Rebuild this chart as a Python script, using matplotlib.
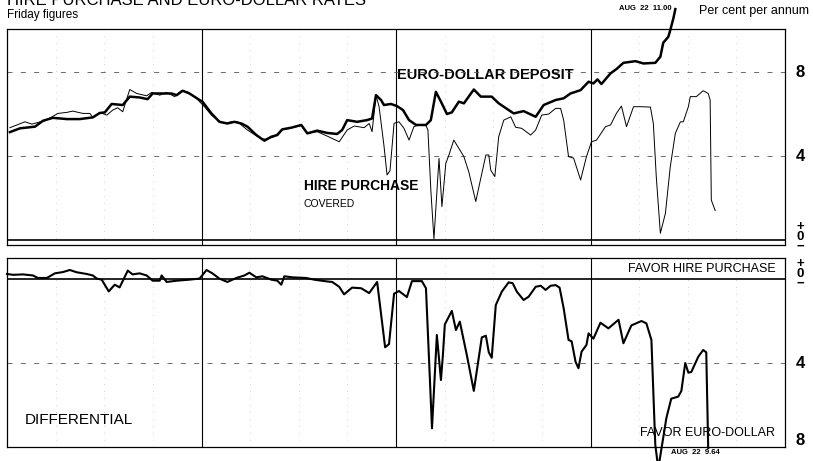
import matplotlib.pyplot as plt
import numpy as np

plt.rcParams['font.family'] = ['Liberation Sans', 'DejaVu Sans']

# Friday figures, per cent per annum (time in decimal years)
ed_year = [1961.015, 1961.067, 1961.144, 1961.185, 1961.236, 1961.308, 1961.374, 1961.441,
           1961.477, 1961.503, 1961.538, 1961.595, 1961.631, 1961.682, 1961.723, 1961.749,
           1961.800, 1961.846, 1961.872, 1961.903, 1961.938, 1961.990, 1962.005, 1962.051,
           1962.092, 1962.133, 1962.169, 1962.205, 1962.236, 1962.282, 1962.323, 1962.359,
           1962.390, 1962.415, 1962.462, 1962.513, 1962.544, 1962.595, 1962.646, 1962.697,
           1962.723, 1962.749, 1962.800, 1962.851, 1962.877, 1962.897, 1962.923, 1962.938,
           1962.974, 1963.005, 1963.036, 1963.067, 1963.103, 1963.154, 1963.179, 1963.205,
           1963.231, 1963.262, 1963.287, 1963.323, 1963.349, 1963.400, 1963.436, 1963.492,
           1963.528, 1963.605, 1963.656, 1963.718, 1963.759, 1963.821, 1963.862, 1963.897,
           1963.949, 1963.990, 1964.015, 1964.036, 1964.056, 1964.103, 1964.133, 1964.169,
           1964.231, 1964.272, 1964.333, 1964.359, 1964.374, 1964.400, 1964.410, 1964.426,
           1964.436]
ed_rate = [5.14, 5.32, 5.40, 5.68, 5.82, 5.76, 5.76, 5.84,
           6.05, 6.08, 6.48, 6.43, 6.83, 6.79, 6.71, 6.98,
           6.98, 6.98, 6.90, 7.11, 6.98, 6.67, 6.59, 6.03,
           5.63, 5.55, 5.63, 5.55, 5.40, 5.00, 4.73, 4.92,
           5.00, 5.27, 5.35, 5.48, 5.08, 5.21, 5.10, 5.05,
           5.24, 5.71, 5.63, 5.71, 5.79, 6.90, 6.67, 6.43,
           6.48, 6.38, 6.19, 5.71, 5.48, 5.48, 5.71, 7.06,
           6.59, 6.00, 6.08, 6.59, 6.51, 7.17, 6.83, 6.83,
           6.51, 6.03, 6.14, 5.87, 6.43, 6.67, 6.75, 6.98,
           7.14, 7.54, 7.46, 7.65, 7.43, 7.94, 8.14, 8.44,
           8.52, 8.41, 8.44, 8.73, 9.40, 9.68, 10.00, 10.56,
           11.00]

hp_year = [1961.015, 1961.092, 1961.128, 1961.159, 1961.195, 1961.262, 1961.308, 1961.338,
           1961.390, 1961.426, 1961.441, 1961.477, 1961.513, 1961.544, 1961.569, 1961.595,
           1961.631, 1961.667, 1961.718, 1961.744, 1961.785, 1961.821, 1961.862, 1961.897,
           1961.928, 1961.974, 1962.015, 1962.051, 1962.082, 1962.118, 1962.154, 1962.185,
           1962.236, 1962.308, 1962.338, 1962.374, 1962.410, 1962.462, 1962.513, 1962.544,
           1962.595, 1962.646, 1962.708, 1962.749, 1962.785, 1962.836, 1962.862, 1962.877,
           1962.897, 1962.913, 1962.938, 1962.954, 1962.969, 1962.990, 1963.015, 1963.041,
           1963.067, 1963.092, 1963.118, 1963.154, 1963.164, 1963.179, 1963.195, 1963.221,
           1963.236, 1963.256, 1963.272, 1963.297, 1963.323, 1963.349, 1963.374, 1963.410,
           1963.436, 1963.462, 1963.477, 1963.487, 1963.508, 1963.528, 1963.554, 1963.590,
           1963.615, 1963.646, 1963.692, 1963.718, 1963.749, 1963.785, 1963.821, 1963.846,
           1963.862, 1963.887, 1963.913, 1963.949, 1963.979, 1964.005, 1964.031, 1964.077,
           1964.103, 1964.133, 1964.159, 1964.185, 1964.221, 1964.262, 1964.308, 1964.323,
           1964.338, 1964.359, 1964.385, 1964.410, 1964.436, 1964.462, 1964.477, 1964.503,
           1964.513, 1964.544, 1964.579, 1964.605, 1964.615, 1964.621, 1964.641]
hp_rate = [5.35, 5.63, 5.52, 5.60, 5.68, 6.03, 6.08, 6.14,
           6.03, 6.03, 5.84, 6.08, 5.95, 6.19, 6.30, 6.11,
           7.17, 6.98, 6.87, 7.03, 6.90, 7.03, 6.83, 7.11,
           7.06, 6.75, 6.35, 5.95, 5.71, 5.55, 5.63, 5.63,
           5.24, 4.81, 4.81, 4.92, 5.24, 5.35, 5.45, 5.08,
           5.16, 4.95, 4.68, 5.24, 5.43, 5.35, 5.55, 5.16,
           6.90, 6.35, 4.50, 3.10, 3.30, 5.56, 5.63, 5.32,
           4.76, 5.40, 5.48, 5.45, 5.24, 2.38, 0.05, 3.89,
           1.59, 3.65, 4.05, 4.76, 4.37, 3.97, 3.25, 1.83,
           2.95, 4.05, 4.05, 3.33, 3.02, 4.92, 5.71, 5.87,
           5.37, 5.32, 5.00, 5.24, 5.95, 6.00, 6.27, 6.27,
           5.71, 3.97, 3.90, 2.86, 3.97, 4.68, 4.76, 5.40,
           5.48, 6.03, 6.38, 5.40, 6.35, 6.35, 6.33, 5.55,
           3.02, 0.32, 1.27, 3.49, 5.08, 5.63, 5.63, 6.35,
           6.83, 6.83, 7.11, 6.98, 6.67, 1.90, 1.40]

diff_year = [1961.000, 1961.031, 1961.082, 1961.133, 1961.159, 1961.205, 1961.246, 1961.287,
             1961.323, 1961.359, 1961.410, 1961.441, 1961.462, 1961.487, 1961.523, 1961.554,
             1961.579, 1961.621, 1961.646, 1961.682, 1961.718, 1961.749, 1961.785, 1961.795,
             1961.821, 1961.872, 1961.938, 1961.990, 1962.026, 1962.056, 1962.092, 1962.133,
             1962.179, 1962.221, 1962.246, 1962.282, 1962.313, 1962.359, 1962.390, 1962.410,
             1962.426, 1962.467, 1962.538, 1962.579, 1962.641, 1962.672, 1962.708, 1962.733,
             1962.774, 1962.821, 1962.862, 1962.903, 1962.944, 1962.964, 1962.990, 1963.015,
             1963.056, 1963.082, 1963.133, 1963.154, 1963.185, 1963.210, 1963.231, 1963.241,
             1963.251, 1963.287, 1963.308, 1963.328, 1963.364, 1963.400, 1963.441, 1963.462,
             1963.477, 1963.492, 1963.513, 1963.544, 1963.579, 1963.600, 1963.621, 1963.656,
             1963.682, 1963.718, 1963.744, 1963.769, 1963.795, 1963.821, 1963.841, 1963.862,
             1963.887, 1963.903, 1963.923, 1963.938, 1963.954, 1963.979, 1963.990, 1964.015,
             1964.051, 1964.092, 1964.144, 1964.169, 1964.210, 1964.262, 1964.287, 1964.313,
             1964.333, 1964.344, 1964.354, 1964.390, 1964.415, 1964.451, 1964.467, 1964.487,
             1964.503, 1964.518, 1964.554, 1964.579, 1964.595, 1964.605]
diff_rate = [0.24, 0.20, 0.22, 0.17, 0.05, 0.05, 0.27, 0.33,
             0.43, 0.32, 0.24, 0.17, 0.02, -0.03, -0.59, -0.27,
             -0.40, 0.40, 0.22, 0.27, 0.17, -0.08, -0.08, 0.17,
             -0.14, -0.08, -0.03, 0.02, 0.43, 0.27, 0.02, -0.14,
             0.05, 0.17, 0.30, 0.08, 0.13, -0.03, -0.08, -0.27,
             0.13, 0.08, 0.05, -0.03, -0.11, -0.14, -0.37, -0.73,
             -0.41, -0.44, -0.67, -0.14, -3.25, -3.10, -0.70, -0.57,
             -0.86, -0.10, -0.10, -0.44, -7.11, -2.67, -4.81, -3.62,
             -2.16, -1.52, -2.43, -2.03, -3.62, -5.33, -2.78, -2.70,
             -3.49, -3.75, -1.24, -0.60, -0.16, -0.20, -0.60, -1.00,
             -0.84, -0.37, -0.32, -0.52, -0.32, -0.29, -0.41, -1.40,
             -2.90, -2.97, -3.94, -4.25, -3.46, -3.14, -2.59, -2.84,
             -2.08, -2.35, -1.94, -3.06, -2.21, -2.00, -2.11, -2.90,
             -7.90, -8.70, -8.70, -6.62, -5.70, -5.60, -5.33, -4.00,
             -4.46, -4.43, -3.70, -3.38, -3.49, -8.05]

years = [1962, 1963, 1964]
quarters = [y + q for y in [1961, 1962, 1963, 1964] for q in [0.25, 0.5, 0.75]]

fig = plt.figure(figsize=(8.13, 4.61), dpi=100)
ax1 = fig.add_axes([0.0086, 0.4685, 0.957, 0.4685])
ax2 = fig.add_axes([0.0086, 0.0304, 0.957, 0.4099])

for ax in (ax1, ax2):
    ax.set_xlim(1961, 1965)
    ax.set_xticks([])
    ax.set_yticks([])
    for s in ax.spines.values():
        s.set_linewidth(0.9)
    for y in years:
        ax.axvline(y, color='black', lw=0.8)
    for q in quarters:
        ax.axvline(q, color='#aaaaaa', lw=0.5, ls=(0, (1, 9)))

white = dict(facecolor='white', edgecolor='none', pad=1.0)

# upper panel
ax1.set_ylim(-0.24, 10.05)
for v in [8, 4]:
    ax1.axhline(v, color='#555555', lw=0.6, ls=(0, (6, 10)))
ax1.axhline(0, color='black', lw=1.2)
ax1.plot(hp_year, hp_rate, color='black', lw=0.7)
ax1.plot(ed_year, ed_rate, color='black', lw=1.8, clip_on=False)

ax1.text(1963.005, 7.86, 'EURO-DOLLAR DEPOSIT', fontsize=10.5, fontweight='bold',
         va='center', ha='left', bbox=white, zorder=1.5)
ax1.text(1962.525, 2.57, 'HIRE PURCHASE', fontsize=10, fontweight='bold',
         va='center', ha='left', bbox=white, zorder=1.5)
ax1.text(1962.525, 1.72, 'COVERED', fontsize=7.5, va='center', ha='left')

yt = ax1.get_yaxis_transform()
ax1.text(1.02, 8, '8', transform=yt, fontsize=12, fontweight='bold', ha='center', va='center')
ax1.text(1.02, 4, '4', transform=yt, fontsize=12, fontweight='bold', ha='center', va='center')
ax1.text(1.02, 0.15, '+\n0\n\u2212', transform=yt, fontsize=9.5, fontweight='bold',
         ha='center', va='center', linespacing=0.72)

# lower panel
ax2.set_ylim(-8, 1.0)
ax2.axhline(-4, color='#555555', lw=0.6, ls=(0, (6, 10)))
ax2.axhline(0, color='black', lw=1.2)
ax2.plot(diff_year, diff_rate, color='black', lw=1.5, clip_on=False)

ax2.text(1961.09, -6.7, 'DIFFERENTIAL', fontsize=11, va='center', ha='left')
ax2.text(1964.95, 0.5, 'FAVOR HIRE PURCHASE', fontsize=9, va='center', ha='right')
ax2.text(1964.95, -7.35, 'FAVOR EURO-DOLLAR', fontsize=9, va='center', ha='right')

yt2 = ax2.get_yaxis_transform()
ax2.text(1.02, -4, '4', transform=yt2, fontsize=12, fontweight='bold', ha='center', va='center')
ax2.text(1.02, -7.7, '8', transform=yt2, fontsize=12, fontweight='bold', ha='center', va='center')
ax2.text(1.02, 0.25, '+\n0\n\u2212', transform=yt2, fontsize=9.5, fontweight='bold',
         ha='center', va='center', linespacing=0.72)

# header and notes
fig.text(0.009, 1 - 5 / 461, 'HIRE PURCHASE AND EURO-DOLLAR RATES', fontsize=12, va='baseline', ha='left')
fig.text(0.009, 1 - 15 / 461, 'Friday figures', fontsize=8.5, va='center', ha='left')
fig.text(0.995, 1 - 11 / 461, 'Per cent per annum', fontsize=9, va='center', ha='right')
fig.text(0.826, 1 - 8 / 461, 'AUG  22  11.00', fontsize=5.5, fontweight='bold', va='center', ha='right')
fig.text(0.825, 1 - 452 / 461, 'AUG  22  9.64', fontsize=5.5, fontweight='bold', va='center', ha='left')

fig.savefig('out.png', dpi=100)
